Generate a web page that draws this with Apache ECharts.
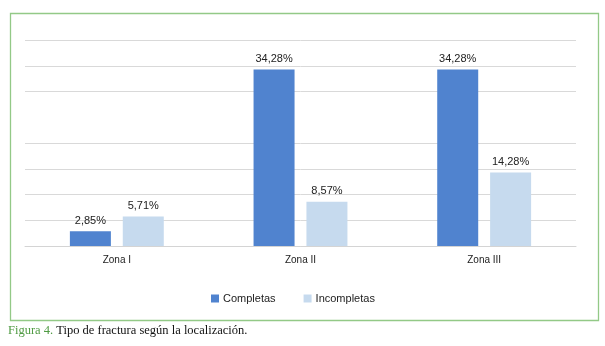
<!DOCTYPE html>
<html>
<head>
<meta charset="utf-8">
<script src="https://cdn.jsdelivr.net/npm/echarts@6/dist/echarts.min.js"></script>
<style>
html,body{margin:0;padding:0;background:#fff;}
#chart{width:605px;height:346px;}
</style>
</head>
<body>
<div id="chart"></div>
<script>
var categories = ['Zona I', 'Zona II', 'Zona III'];
var completas = [2.85, 34.28, 34.28];
var incompletas = [5.71, 8.57, 14.28];
var seriesNames = ['Completas', 'Incompletas'];
var captionLead = 'Figura 4.';
var captionText = ' Tipo de fractura según la localización.';

var chart = echarts.init(document.getElementById('chart'), null, {renderer: 'canvas'});
function fmt(p) { return p.value.toFixed(2).replace('.', ',') + '%'; }
var labelStyle = {show: true, position: 'top', distance: 5, color: '#222', fontSize: 11, fontFamily: 'Liberation Sans, Arial, sans-serif', formatter: fmt};
var gridColors = ['#d9d9d9','#d9d9d9','#d9d9d9','#d9d9d9','#d9d9d9','rgba(0,0,0,0)','#d9d9d9','#d9d9d9','#d9d9d9'];
chart.setOption({
  animation: false,
  backgroundColor: '#fff',
  textStyle: {fontFamily: 'Liberation Sans, Arial, sans-serif'},
  graphic: [{
    type: 'rect', left: 8, top: 11,
    shape: {width: 588, height: 307},
    style: {fill: 'none', stroke: '#93c987', lineWidth: 1.3}
  }],
  title: {
    left: 8, top: 324, padding: 0,
    text: '{a|' + captionLead + '}{b|' + captionText + '}',
    textStyle: {
      fontWeight: 'normal',
      rich: {
        a: {fontFamily: 'Liberation Serif, serif', fontSize: 12.5, fontWeight: 'normal', color: '#4f9a42'},
        b: {fontFamily: 'Liberation Serif, serif', fontSize: 12.5, fontWeight: 'normal', color: '#111'}
      }
    }
  },
  legend: {
    data: seriesNames,
    left: 206, top: 288,
    itemWidth: 8, itemHeight: 8, itemGap: 28,
    icon: 'rect',
    textStyle: {fontSize: 11, color: '#222', padding: [0,0,0,-1]}
  },
  grid: {left: 25, right: 29, top: 40, bottom: 100, containLabel: false},
  xAxis: {
    type: 'category', data: categories,
    axisLine: {lineStyle: {color: '#d4d4d4', width: 1}},
    axisTick: {show: false},
    axisLabel: {color: '#222', fontSize: 10, margin: 9}
  },
  yAxis: {
    type: 'value', min: 0, max: 40, interval: 5,
    axisLabel: {show: false}, axisLine: {show: false}, axisTick: {show: false},
    splitLine: {lineStyle: {color: gridColors, width: 1}}
  },
  series: [
    {name: seriesNames[0], type: 'bar', data: completas, barWidth: 41, barGap: '29%',
     itemStyle: {color: '#5083cf'}, label: labelStyle},
    {name: seriesNames[1], type: 'bar', data: incompletas, barWidth: 41,
     itemStyle: {color: '#c6daee'}, label: labelStyle}
  ]
});
</script>
</body>
</html>
